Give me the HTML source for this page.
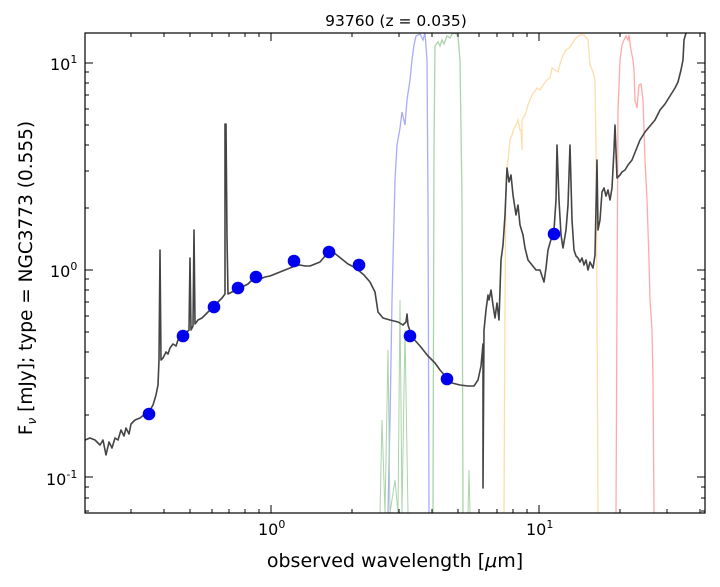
<!DOCTYPE html><html><head><style>body{margin:0;background:#fff}svg{display:block}</style></head><body>
<svg width="720" height="587" xmlns="http://www.w3.org/2000/svg" font-family="DejaVu Sans, Liberation Sans, sans-serif">
<defs><clipPath id="c"><rect x="85" y="33" width="620" height="480"/></clipPath></defs>
<g clip-path="url(#c)" fill="none" stroke-width="1.3">
<polyline stroke="#aaaaff" points="388,513 390,420 392,300 395,180 397,145 400,128 402,112 405,125 407,100 410,80 412,60 414,45 416,36 420,34 423,40 425,33 427,60 428,200 429,513"/>
<polyline stroke="#aad4aa" points="433,513 434,150 435,46 438,42 440,46 442,40 444,44 447,36 450,38 452,34 455,33 458,36 460,60 462,200 463,513"/>
<polyline stroke="#aad4aa" stroke-width="1" points="380,513 382,420 385,513 388,350 390,513 395,480 398,513 400,300 402,513 405,330 408,513 468,513 469,470 470,513"/>
<polyline stroke="#ffdcaa" points="504,513 505,300 506,180 508,160 510,140 512,135 514,128 516,125 518,120 520,130 521,130 522,150 522,120 525,115 528,105 532,95 537,88 540,90 543,85 547,80 550,78 552,68 555,70 558,72 560,64 563,55 566,50 569,48 572,44 576,38 580,35 584,35 588,40 590,65 593,72 595,80 596,150 597,300 598,513"/>
<polyline stroke="#ffaaaa" points="616,513 617,300 618,110 620,60 622,45 624,40 626,36 628,40 629,35 631,50 633,60 634,70 635,100 637,108 639,85 641,84 643,100 645,160 647,200 649,260 650,300 652,330 653,380 654,513"/>
<polyline stroke="#444" stroke-width="1.6" stroke-linejoin="round" points="85,440 90,438 95,440 100,445 103,440 106,455 109,442 112,448 115,438 118,440 121,430 124,436 126,428 129,434 131,424 135,420 140,418 145,414 149,412 153,405 156,395 158,385 159,360 160,250 161,360 163,358 166,352 168,354 170,348 173,344 176,346 178,340 181,336 185,334 189,330 190,258 191,330 193,326 194,230 195,324 198,320 202,318 206,314 210,310 214,306 218,302 222,298 225,294 225,124 226,124 227,238 228,294 232,292 236,290 240,288 244,286 248,284 252,280 256,278 260,279 265,277 270,276 275,274 280,272 285,270 290,268 295,266 300,265 305,266 310,266 315,264 320,262 325,256 329,250 333,252 338,256 343,260 348,264 352,266 358,270 364,275 370,282 375,292 378,312 383,318 390,320 398,322 403,325 406,322 407,314 408,325 412,337 420,346 428,356 435,363 440,370 447,378 452,383 460,385 468,386 474,386 478,380 481,366 483,344 483,488 484,330 486,310 488,295 489,300 491,290 493,305 495,318 497,303 499,320 501,260 503,245 505,215 507,168 509,182 511,175 513,195 516,215 518,205 520,225 523,235 525,248 528,260 532,265 536,270 540,270 544,282 546,268 548,250 552,236 554,230 556,200 557,145 559,200 561,235 563,248 566,230 568,205 570,145 572,220 574,250 576,256 578,258 580,262 582,258 584,265 586,260 588,270 590,262 593,268 595,255 597,160 598,230 600,220 602,192 604,188 606,196 608,190 610,200 612,188 614,150 615,125 617,178 620,175 622,172 625,170 628,165 632,160 636,150 640,140 645,132 650,126 655,120 660,110 665,104 670,96 675,88 678,82 681,70 683,60 684,40 686,33"/>
</g>
<g fill="#0000ee">
<circle cx="149" cy="414" r="6.3"/><circle cx="183" cy="336" r="6.3"/><circle cx="214" cy="307" r="6.3"/><circle cx="238" cy="288" r="6.3"/><circle cx="256" cy="277" r="6.3"/><circle cx="294" cy="261" r="6.3"/><circle cx="329" cy="252" r="6.3"/><circle cx="359" cy="265" r="6.3"/><circle cx="410" cy="336" r="6.3"/><circle cx="447" cy="379" r="6.3"/><circle cx="554" cy="234" r="6.3"/>
</g>
<rect x="85" y="33" width="620" height="480" fill="none" stroke="#000" stroke-width="1.2"/>
<g stroke="#000" stroke-width="1">
<path d="M271,513v-8M539,513v-8M271,33v8M539,33v8"/>
<path d="M131,513v-4M164,513v-4M190,513v-4M212,513v-4M229,513v-4M245,513v-4M259,513v-4M352,513v-4M399,513v-4M432,513v-4M458,513v-4M479,513v-4M497,513v-4M513,513v-4M527,513v-4M620,513v-4M667,513v-4M700,513v-4"/>
<path d="M131,33v4M164,33v4M190,33v4M212,33v4M229,33v4M245,33v4M259,33v4M352,33v4M399,33v4M432,33v4M458,33v4M479,33v4M497,33v4M513,33v4M527,33v4M620,33v4M667,33v4M700,33v4"/>
<path d="M85,63h8M85,270h8M85,477h8M705,63h-8M705,270h-8M705,477h-8"/>
<path d="M85,415h4M85,378h4M85,352h4M85,332h4M85,316h4M85,302h4M85,290h4M85,279h4M85,208h4M85,171h4M85,145h4M85,125h4M85,109h4M85,95h4M85,83h4M85,72h4M85,487h4M85,498h4M85,511h4"/>
<path d="M705,415h-4M705,378h-4M705,352h-4M705,332h-4M705,316h-4M705,302h-4M705,290h-4M705,279h-4M705,208h-4M705,171h-4M705,145h-4M705,125h-4M705,109h-4M705,95h-4M705,83h-4M705,72h-4M705,487h-4M705,498h-4M705,511h-4"/>
</g>
<g font-size="16" fill="#000">
<text x="50" y="70">10<tspan font-size="11" dy="-7">1</tspan></text>
<text x="50" y="277">10<tspan font-size="11" dy="-7">0</tspan></text>
<text x="46" y="485">10<tspan font-size="11" dy="-7">-1</tspan></text>
<text x="258" y="535">10<tspan font-size="11" dy="-7">0</tspan></text>
<text x="526" y="535">10<tspan font-size="11" dy="-7">1</tspan></text>
</g>
<text x="396" y="26" font-size="15.5" text-anchor="middle">93760 (z = 0.035)</text>
<text x="395" y="567" font-size="19" text-anchor="middle">observed wavelength [<tspan font-style="italic">μ</tspan>m]</text>
<text transform="translate(32,278) rotate(-90)" font-size="18.5" text-anchor="middle">F<tspan font-size="12" dy="4" font-style="italic">ν</tspan><tspan dy="-4"> [mJy];  type = NGC3773 (0.555)</tspan></text>
</svg>
</body></html>
